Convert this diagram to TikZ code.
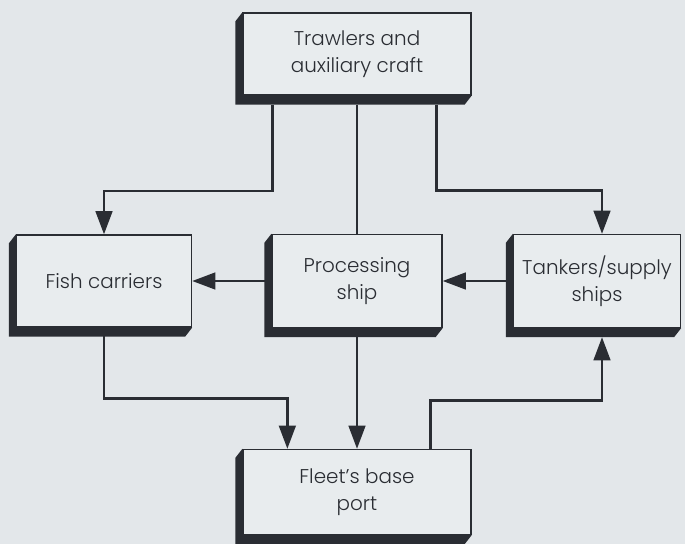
\documentclass[tikz,border=0pt]{standalone}
\usepackage{fontspec}
\setmainfont{Poppins}[UprightFont=* Light]
\usepackage{xcolor}
\usetikzlibrary{shapes,arrows.meta,positioning}
\definecolor{paper}{HTML}{E3E7EA}
\definecolor{facefill}{HTML}{E8ECEE}
\definecolor{ink}{HTML}{2A2D33}
\begin{document}
\begin{tikzpicture}[x=0.03cm, y=-0.03cm]
        % Define styles
        \tikzstyle{block} = [rectangle, draw=ink, line width=1.1pt, fill=facefill, text=ink, align=center, font=\fontsize{17}{23}\selectfont, inner sep=0pt]
        \tikzstyle{depth} = [fill=ink]
        \tikzstyle{arrow} = [draw=ink, line width=2.4pt, -{Triangle[length=0.7cm,width=0.5cm]}]
        \tikzstyle{link} = [draw=ink, line width=2.4pt]

        % Background
        \fill[paper] (0,0) rectangle (685,544);
        \useasboundingbox (0,0) rectangle (685,544);

        % Boxes
        \node [block, minimum width=6.84cm, minimum height=2.46cm] (trawl) at (357,54) {Trawlers and\\auxiliary craft};
        \node [block, minimum width=5.25cm, minimum height=2.76cm] (fish) at (104,281) {Fish carriers};
        \node [block, minimum width=5.1cm, minimum height=2.79cm] (proc) at (357,281) {Processing\\ship};
        \node [block, minimum width=5.01cm, minimum height=2.79cm] (tank) at (597,281) {Tankers/supply\\ships};
        \node [block, minimum width=6.84cm, minimum height=2.55cm] (port) at (357,492) {Fleet's base\\port};

        % Block depth
        \foreach \n in {trawl,fish,proc,tank,port}
          \fill[depth] (\n.north west) -- ([shift={(-7,9)}]\n.north west) -- ([shift={(-7,9)}]\n.south west)
            -- ([shift={(-7,9)}]\n.south east) -- (\n.south east) -- (\n.south west) -- cycle;

        % Arrows
        \draw [arrow] ([xshift=0.9cm,yshift=-0.27cm]trawl.south west) |- ([yshift=1.3cm]fish.north) -- (fish.north);
        \draw [arrow] ([xshift=-1.05cm,yshift=-0.27cm]trawl.south east) |- ([xshift=0.15cm,yshift=1.3cm]tank.north) -- ([xshift=0.15cm]tank.north);
        \draw [link] ([yshift=-0.27cm]trawl.south) -- (proc.north);
        \draw [arrow] (proc.west) -- (fish.east);
        \draw [arrow] (tank.west) -- (proc.east);
        \draw [arrow] (fish.south) |- ([xshift=1.35cm,yshift=1.5cm]port.north west) -- ([xshift=1.35cm]port.north west);
        \draw [arrow] (proc.south) -- (port.north);
        \draw [arrow] ([xshift=-1.23cm]port.north east) -- ++(0,-48) -| ([xshift=0.15cm,yshift=-0.27cm]tank.south);
    \end{tikzpicture}
\end{document}
